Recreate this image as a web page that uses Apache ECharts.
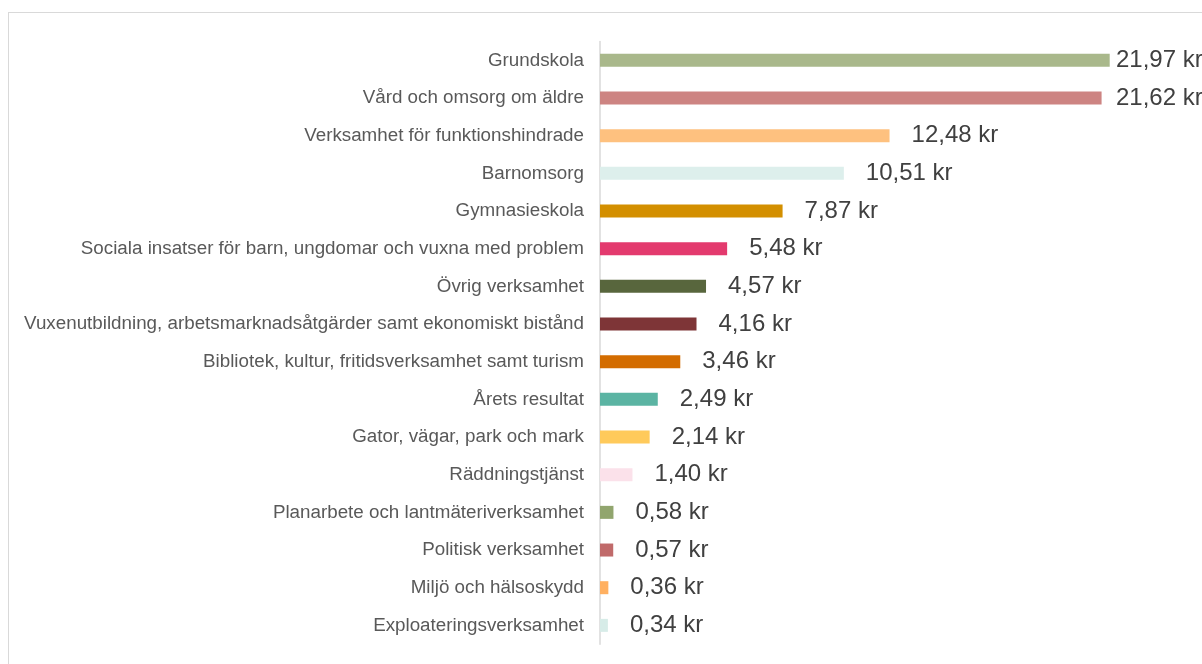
<!DOCTYPE html>
<html><head><meta charset="utf-8">
<script src="https://cdn.jsdelivr.net/npm/echarts@6/dist/echarts.min.js"></script>
<style>html,body{margin:0;padding:0;background:#fff;overflow:hidden;}#c{width:1202px;height:664px;}
#frame{position:absolute;left:8px;top:12px;width:1210px;height:670px;border:1.5px solid #d9d9d9;box-sizing:border-box;pointer-events:none;}</style>
</head><body><div id="c"></div><div id="frame"></div>
<script>
const categories = ["Grundskola","Vård och omsorg om äldre","Verksamhet för funktionshindrade","Barnomsorg","Gymnasieskola","Sociala insatser för barn, ungdomar och vuxna med problem","Övrig verksamhet","Vuxenutbildning, arbetsmarknadsåtgärder samt ekonomiskt bistånd","Bibliotek, kultur, fritidsverksamhet samt turism","Årets resultat","Gator, vägar, park och mark","Räddningstjänst","Planarbete och lantmäteriverksamhet","Politisk verksamhet","Miljö och hälsoskydd","Exploateringsverksamhet"];
const values = [21.97,21.62,12.48,10.51,7.87,5.48,4.57,4.16,3.46,2.49,2.14,1.40,0.58,0.57,0.36,0.34];
const colors = ["#A9B88B","#CD8482","#FEC17F","#DDEFEC","#D38F00","#E33A6E","#58663D","#7E3537","#D36C00","#5BB4A3","#FFCA5B","#FBE1EA","#91A56E","#C06A6A","#FFB061","#D7ECE8"];

const gridLeft = 600, gridRight = 22, xMax = 25;
const plotW = 1202 - gridLeft - gridRight;
const scale = plotW / xMax;
const labelLimit = 1116;

const data = values.map((v, i) => {
  const end = gridLeft + v * scale;
  const dist = Math.min(22, labelLimit - end);
  return { value: v, itemStyle: { color: colors[i] }, label: { distance: dist } };
});

const chart = echarts.init(document.getElementById('c'));
chart.setOption({
  animation: false,
  grid: { left: gridLeft, right: gridRight, top: 41.5, bottom: 19.8, containLabel: false },
  xAxis: { type: 'value', min: 0, max: xMax, show: false },
  yAxis: {
    type: 'category', data: categories, inverse: true,
    axisLine: { show: true, lineStyle: { color: '#d9d9d9', width: 1.5 } },
    axisTick: { show: false },
    axisLabel: { color: '#595959', fontSize: 18.8, fontFamily: 'Liberation Sans, Arial, sans-serif', margin: 16, padding: [5, 0, 0, 0] }
  },
  series: [{
    type: 'bar', data: data, barWidth: 13,
    label: {
      show: true, position: 'right', color: '#404040', fontSize: 24,
      fontFamily: 'Liberation Sans, Arial, sans-serif', padding: [5, 0, 0, 0],
      formatter: p => p.value.toFixed(2).replace('.', ',') + ' kr'
    }
  }]
});
</script></body></html>
